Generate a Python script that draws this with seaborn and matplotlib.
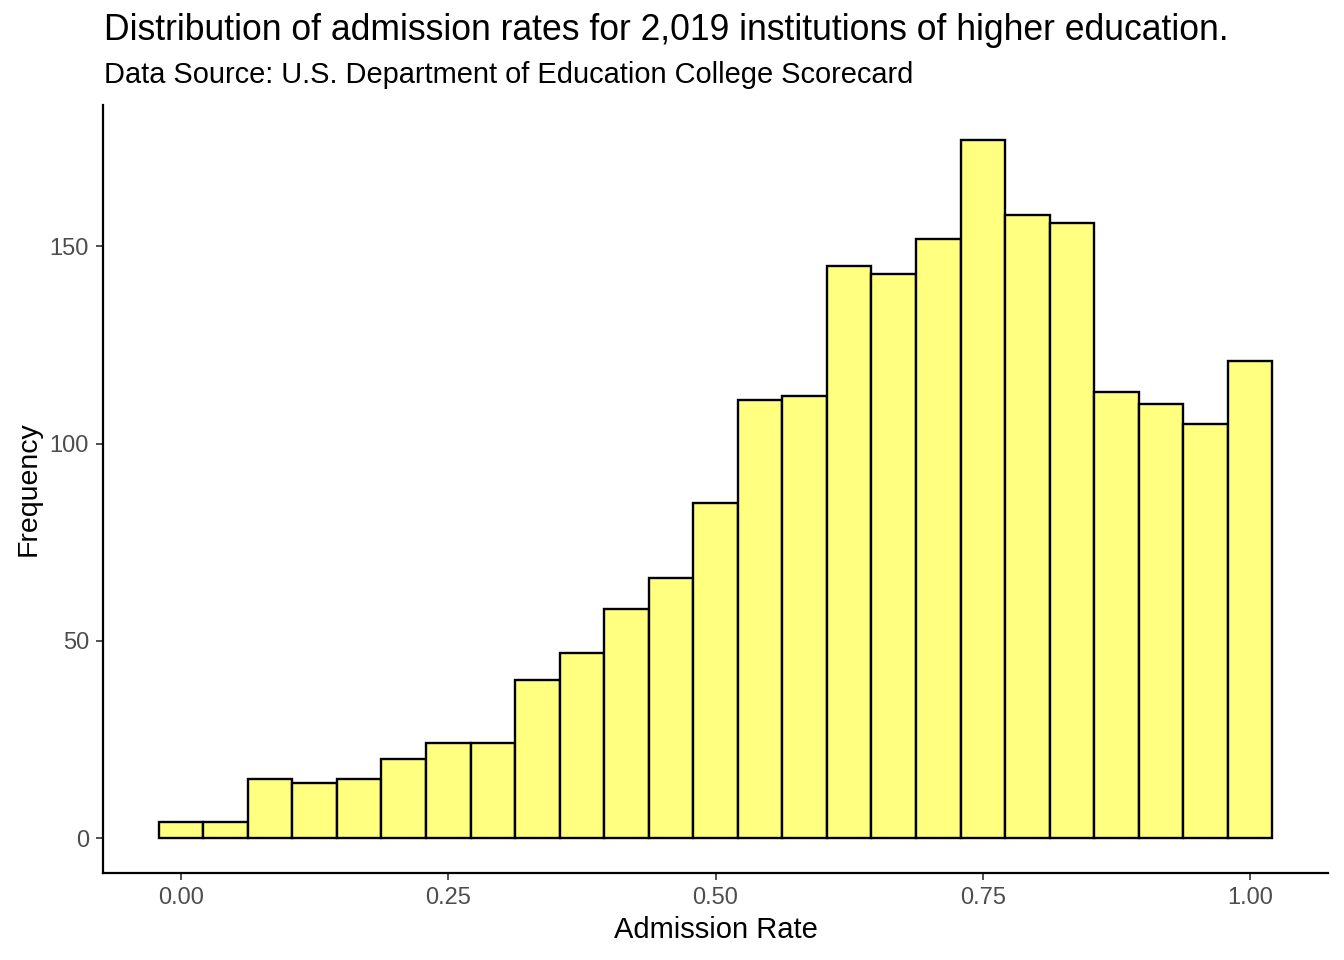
import numpy as np
import matplotlib
matplotlib.use("Agg")
import matplotlib.pyplot as plt
import seaborn as sns

# Histogram data (25 bins of width 1/24 centered at k/24)
bin_centers = [k / 24 for k in range(25)]
counts = [4, 4, 15, 14, 15, 20, 24, 24, 40, 47, 58, 66, 85, 111, 112,
          145, 143, 152, 177, 158, 156, 113, 110, 105, 121]
x_ticks = [0.0, 0.25, 0.5, 0.75, 1.0]
x_tick_labels = ["0.00", "0.25", "0.50", "0.75", "1.00"]
y_ticks = [0, 50, 100, 150]

title = "Distribution of admission rates for 2,019 institutions of higher education."
subtitle = "Data Source: U.S. Department of Education College Scorecard"

sns.set_theme(style="ticks")
plt.rcParams['font.family'] = ['Liberation Sans', 'DejaVu Sans']

fig = plt.figure(figsize=(13.44, 9.6), dpi=100)
ax = fig.add_axes([103/1344, 87/960, (1328-103)/1344, (873-105)/960])

w = 1 / 24
edges = [c - w / 2 for c in bin_centers] + [bin_centers[-1] + w / 2]
sns.histplot(x=bin_centers, weights=counts, bins=edges, ax=ax,
             color="#FFFF80", edgecolor="black", linewidth=1.7, alpha=1.0)

lo, hi = edges[0], edges[-1]
pad = (hi - lo) * 0.05
ax.set_xlim(lo - pad, hi + pad)
ymax = max(counts)
ax.set_ylim(-ymax * 0.05, ymax * 1.05)

ax.set_xticks(x_ticks)
ax.set_xticklabels(x_tick_labels)
ax.set_yticks(y_ticks)
ax.tick_params(axis="both", colors="#333333", labelcolor="#4D4D4D",
               labelsize=17, length=5, width=1.2, pad=5)
for s in ["top", "right"]:
    ax.spines[s].set_visible(False)
for s in ["left", "bottom"]:
    ax.spines[s].set_color("black")
    ax.spines[s].set_linewidth(1.6)

ax.set_xlabel("Admission Rate", fontsize=21, color="black", labelpad=5)
ax.set_ylabel("Frequency", fontsize=20.5, color="black", labelpad=6)

fig.text(104/1344, 1 - 30/960, title, fontsize=25.6, ha="left", va="center", color="black")
fig.text(104/1344, 1 - 75/960, subtitle, fontsize=20.9, ha="left", va="center", color="black")

fig.savefig("out.png", dpi=100)
